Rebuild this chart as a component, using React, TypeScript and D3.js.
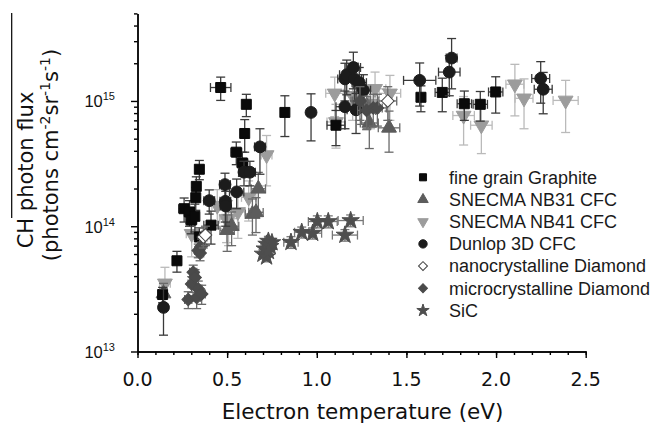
import React, { useEffect, useRef } from "react";
import * as d3 from "d3";

// each point: [electron temperature (eV), CH photon flux, dTe, dFlux]
type Pt = [number, number, number, number];

const graphite: Pt[] = [
  [0.14, 2.85e13, 0.02, 0.4e13],
  [0.22, 5.3e13, 0.02, 1.0e13],
  [0.26, 1.38e14, 0.03, 0.3e14],
  [0.29, 1.3e14, 0.03, 0.3e14],
  [0.3, 1.12e14, 0.03, 0.25e14],
  [0.32, 1.2e14, 0.02, 0.3e14],
  [0.325, 1.69e14, 0.02, 0.35e14],
  [0.328, 2.08e14, 0.02, 0.4e14],
  [0.345, 2.85e14, 0.02, 0.5e14],
  [0.345, 8.2e13, 0.02, 1.5e13],
  [0.41, 1.02e14, 0.04, 0.3e14],
  [0.464, 1.28e15, 0.057, 0.27e15],
  [0.551, 3.9e14, 0.03, 0.8e14],
  [0.585, 3.2e14, 0.03, 0.7e14],
  [0.598, 5.5e14, 0.02, 1.6e14],
  [0.607, 9.4e14, 0.02, 1.9e14],
  [0.822, 8.1e14, 0.02, 2.9e14],
  [1.107, 6.4e14, 0.05, 2.0e14],
  [1.581, 1.07e15, 0.02, 0.25e15],
  [1.7, 1.17e15, 0.04, 0.35e15],
  [1.823, 9.5e14, 0.04, 2.5e14],
  [1.912, 9.4e14, 0.04, 2.5e14],
  [1.998, 1.18e15, 0.04, 0.38e15],
];

const nb31: Pt[] = [
  [0.145, 2.9e13, 0.02, 0.6e13],
  [0.5, 9.3e13, 0.04, 0.3e14],
  [0.525, 1.0e14, 0.04, 0.3e14],
  [0.641, 1.25e14, 0.04, 0.4e14],
  [0.661, 1.29e14, 0.04, 0.4e14],
  [0.674, 1.99e14, 0.04, 0.7e14],
  [1.25, 1.0e15, 0.05, 0.35e15],
  [1.28, 9.0e14, 0.05, 0.3e15],
  [1.293, 6.67e14, 0.05, 2.5e14],
  [1.403, 6.1e14, 0.06, 2.2e14],
];

const nb41: Pt[] = [
  [0.153, 3.5e13, 0.03, 1.2e13],
  [0.302, 8.7e13, 0.03, 3.0e13],
  [0.445, 1.46e14, 0.03, 0.5e14],
  [0.497, 1.14e14, 0.04, 0.4e14],
  [0.508, 1.15e14, 0.05, 0.45e14],
  [0.56, 1.3e14, 0.04, 0.5e14],
  [0.62, 1.7e14, 0.04, 0.6e14],
  [0.72, 3.7e14, 0.03, 1.6e14],
  [1.1, 1.15e15, 0.05, 0.4e15],
  [1.107, 6.8e14, 0.05, 2.6e14],
  [1.2, 1.1e15, 0.05, 0.4e15],
  [1.3, 9.5e14, 0.05, 0.35e15],
  [1.325, 1.25e15, 0.06, 0.45e15],
  [1.408, 1.15e15, 0.06, 0.45e15],
  [1.819, 7.65e14, 0.06, 3.2e14],
  [1.918, 6.4e14, 0.06, 2.6e14],
  [2.105, 1.36e15, 0.05, 0.6e15],
  [2.156, 1.05e15, 0.05, 0.45e15],
  [2.388, 1.01e15, 0.07, 0.45e15],
];

const dunlop: Pt[] = [
  [0.145, 2.25e13, 0.02, 0.9e13],
  [0.4, 1.6e14, 0.03, 0.35e14],
  [0.488, 2.15e14, 0.03, 0.5e14],
  [0.49, 1.58e14, 0.03, 0.5e14],
  [0.492, 1.45e14, 0.03, 0.45e14],
  [0.553, 1.88e14, 0.04, 0.5e14],
  [0.594, 2.7e14, 0.03, 0.6e14],
  [0.627, 2.7e14, 0.03, 0.6e14],
  [0.683, 4.3e14, 0.03, 1.7e14],
  [0.968, 8.1e14, 0.02, 3.3e14],
  [1.157, 1.5e15, 0.04, 0.5e15],
  [1.167, 1.62e15, 0.04, 0.5e15],
  [1.204, 1.85e15, 0.04, 0.6e15],
  [1.21, 1.5e15, 0.04, 0.5e15],
  [1.237, 1.4e15, 0.04, 0.45e15],
  [1.26, 1.22e15, 0.04, 0.4e15],
  [1.157, 9.0e14, 0.05, 3.0e14],
  [1.219, 8.5e14, 0.05, 3.0e14],
  [1.574, 1.46e15, 0.09, 0.55e15],
  [1.739, 1.7e15, 0.06, 0.6e15],
  [1.752, 2.2e15, 0.03, 0.95e15],
  [2.249, 1.51e15, 0.05, 0.55e15],
  [2.263, 1.24e15, 0.05, 0.45e15],
];

const nanoDiamond: Pt[] = [
  [0.367, 8.2e13, 0.02, 1.5e13],
  [0.379, 8.5e13, 0.02, 1.5e13],
  [1.396, 1.0e15, 0.05, 0.3e15],
];

const microDiamond: Pt[] = [
  [0.283, 2.6e13, 0.02, 0.4e13],
  [0.302, 3.46e13, 0.02, 0.5e13],
  [0.311, 4.29e13, 0.02, 0.6e13],
  [0.321, 3.9e13, 0.02, 0.6e13],
  [0.33, 2.7e13, 0.02, 0.5e13],
  [0.339, 3.15e13, 0.02, 0.5e13],
  [0.358, 2.88e13, 0.02, 0.5e13],
  [0.339, 6.4e13, 0.02, 0.8e13],
  [0.349, 6.1e13, 0.02, 0.8e13],
  [0.358, 7.0e13, 0.02, 0.9e13],
  [1.241, 1.0e15, 0.05, 0.3e15],
  [1.278, 8.4e14, 0.05, 2.5e14],
  [1.315, 8.8e14, 0.05, 2.5e14],
  [1.338, 8.8e14, 0.05, 2.5e14],
];

const sic: Pt[] = [
  [0.7, 6.0e13, 0.02, 0.5e13],
  [0.71, 6.6e13, 0.02, 0.6e13],
  [0.72, 7.2e13, 0.02, 0.6e13],
  [0.73, 7.6e13, 0.02, 0.7e13],
  [0.74, 6.9e13, 0.02, 0.6e13],
  [0.75, 7.4e13, 0.02, 0.6e13],
  [0.72, 5.7e13, 0.02, 0.5e13],
  [0.73, 6.3e13, 0.02, 0.5e13],
  [0.856, 7.45e13, 0.04, 0.8e13],
  [0.916, 8.95e13, 0.04, 0.9e13],
  [0.977, 8.8e13, 0.05, 0.9e13],
  [1.003, 1.09e14, 0.05, 0.12e14],
  [1.064, 1.09e14, 0.05, 0.12e14],
  [1.157, 8.5e13, 0.07, 0.9e13],
  [1.189, 1.11e14, 0.07, 0.12e14],
];

const xTicks = [0, 0.5, 1.0, 1.5, 2.0, 2.5];
const yTickExponents = [13, 14, 15];

type Shape = "square" | "up" | "down" | "circle" | "diamond" | "star";

interface Series {
  name: string;
  data: Pt[];
  shape: Shape;
  fill: string;
  stroke: string;
  bar: string;
}

const series: Series[] = [
  { name: "fine grain Graphite", data: graphite, shape: "square", fill: "#0a0a0a", stroke: "#0a0a0a", bar: "#3a3a3a" },
  { name: "SNECMA NB31 CFC", data: nb31, shape: "up", fill: "#5c5c5c", stroke: "#5c5c5c", bar: "#6a6a6a" },
  { name: "SNECMA NB41 CFC", data: nb41, shape: "down", fill: "#9c9c9c", stroke: "#9c9c9c", bar: "#bababa" },
  { name: "Dunlop 3D CFC", data: dunlop, shape: "circle", fill: "#1c1c1c", stroke: "#1c1c1c", bar: "#3a3a3a" },
  { name: "nanocrystalline Diamond", data: nanoDiamond, shape: "diamond", fill: "#ffffff", stroke: "#444444", bar: "#6a6a6a" },
  { name: "microcrystalline Diamond", data: microDiamond, shape: "diamond", fill: "#4a4a4a", stroke: "#4a4a4a", bar: "#6a6a6a" },
  { name: "SiC", data: sic, shape: "star", fill: "#4e4e4e", stroke: "#4e4e4e", bar: "#777777" },
];

// painting order (back to front)
const drawOrder = [2, 1, 0, 3, 5, 4, 6];

const symbolPath = (shape: Shape, scale: number) => {
  const type =
    shape === "square" ? d3.symbolSquare
    : shape === "circle" ? d3.symbolCircle
    : shape === "star" ? d3.symbolStar
    : shape === "diamond" ? d3.symbolSquare
    : d3.symbolTriangle;
  const size =
    shape === "square" ? 100
    : shape === "circle" ? 110
    : shape === "star" ? 95
    : shape === "diamond" ? 80
    : 95;
  return d3.symbol().type(type).size(size * scale)() as string;
};

const symbolRotate = (shape: Shape) =>
  shape === "down" ? 180 : shape === "diamond" ? 45 : 0;

const App: React.FC = () => {
  const ref = useRef<SVGSVGElement | null>(null);

  useEffect(() => {
    const svg = d3.select(ref.current);
    svg.selectAll("*").remove();

    const x = d3.scaleLinear().domain([0, 2.5]).range([137.5, 585.7]);
    const y = d3.scaleLog().domain([1e13, 5e15]).range([351.5, 13.4]);

    // axes
    const xMinor = d3.range(0, 2.51, 0.1);
    const yMinor: number[] = [];
    for (const e of yTickExponents) for (let m = 2; m <= 9; m++) {
      const v = m * Math.pow(10, e);
      if (v <= 5e15) yMinor.push(v);
    }

    const xAxis = svg.append("g").attr("transform", `translate(0,${y.range()[0]})`);
    xAxis.call(d3.axisBottom(x).tickValues(xMinor).tickSize(3.5).tickFormat(() => "").tickSizeOuter(0));
    xAxis.call((g) => g.append("g").call(d3.axisBottom(x).tickValues(xTicks).tickSize(6.5).tickFormat(() => "").tickSizeOuter(0)));
    xAxis.selectAll("path, line").attr("stroke", "#000").attr("stroke-width", 1.4);

    const yAxis = svg.append("g").attr("transform", `translate(${x.range()[0]},0)`);
    yAxis.call(d3.axisLeft(y).tickValues(yMinor).tickSize(3.5).tickFormat(() => "").tickSizeOuter(0));
    yAxis.call((g) => g.append("g").call(
      d3.axisLeft(y).tickValues(yTickExponents.map((e) => Math.pow(10, e))).tickSize(6.5).tickFormat(() => "").tickSizeOuter(0)
    ));
    yAxis.selectAll("path, line").attr("stroke", "#000").attr("stroke-width", 1.4);

    // tick labels
    svg.append("g")
      .selectAll("text")
      .data(xTicks)
      .enter()
      .append("text")
      .attr("x", (d) => x(d))
      .attr("y", 385.5)
      .attr("text-anchor", "middle")
      .attr("font-family", "DejaVu Sans")
      .attr("font-size", 19)
      .attr("fill", "#111")
      .text((d) => d3.format(".1f")(d));

    const yl = svg.append("g")
      .selectAll("text")
      .data(yTickExponents)
      .enter()
      .append("text")
      .attr("x", 115)
      .attr("y", (d) => y(Math.pow(10, d)) + 6.5)
      .attr("text-anchor", "end")
      .attr("font-family", "Liberation Sans")
      .attr("font-size", 16.5)
      .attr("fill", "#111");
    yl.append("tspan").text("10");
    yl.append("tspan").attr("dy", -7).attr("font-size", 11).text((d) => String(d));

    // axis titles
    svg.append("text")
      .attr("x", 362.5)
      .attr("y", 419)
      .attr("text-anchor", "middle")
      .attr("font-family", "DejaVu Sans")
      .attr("font-size", 21.5)
      .attr("fill", "#111")
      .text("Electron temperature (eV)");

    svg.append("text")
      .attr("transform", "translate(33,170) rotate(-90)")
      .attr("text-anchor", "middle")
      .attr("font-family", "DejaVu Sans")
      .attr("font-size", 21)
      .attr("fill", "#111")
      .text("CH photon flux");

    const t2 = svg.append("text")
      .attr("transform", "translate(58,155) rotate(-90)")
      .attr("text-anchor", "middle")
      .attr("font-family", "DejaVu Sans")
      .attr("font-size", 21)
      .attr("fill", "#111");
    t2.append("tspan").text("(photons cm");
    t2.append("tspan").attr("dy", -8).attr("font-size", 14).text("-2");
    t2.append("tspan").attr("dy", 8).text("sr");
    t2.append("tspan").attr("dy", -8).attr("font-size", 14).text("-1");
    t2.append("tspan").attr("dy", 8).text("s");
    t2.append("tspan").attr("dy", -8).attr("font-size", 14).text("-1");
    t2.append("tspan").attr("dy", 8).text(")");

    svg.append("line")
      .attr("x1", 11.7).attr("x2", 11.7).attr("y1", 13).attr("y2", 218)
      .attr("stroke", "#000").attr("stroke-width", 1.2);

    // data
    const cap = 4.5;
    for (const i of drawOrder) {
      const s = series[i];
      const g = svg.append("g");
      const bars = g.append("g").attr("stroke", s.bar).attr("stroke-width", 1.3).attr("fill", "none");
      s.data.forEach(([te, f, dte, df]) => {
        const cx = x(te), cy = y(f);
        const yHi = y(f + df), yLo = y(Math.max(f - df, 1.01e13));
        const xLo = x(te - dte), xHi = x(te + dte);
        bars.append("line").attr("x1", cx).attr("x2", cx).attr("y1", yHi).attr("y2", yLo);
        bars.append("line").attr("x1", cx - cap).attr("x2", cx + cap).attr("y1", yHi).attr("y2", yHi);
        bars.append("line").attr("x1", cx - cap).attr("x2", cx + cap).attr("y1", yLo).attr("y2", yLo);
        bars.append("line").attr("x1", xLo).attr("x2", xHi).attr("y1", cy).attr("y2", cy);
        bars.append("line").attr("x1", xLo).attr("x2", xLo).attr("y1", cy - cap).attr("y2", cy + cap);
        bars.append("line").attr("x1", xHi).attr("x2", xHi).attr("y1", cy - cap).attr("y2", cy + cap);
      });
      g.append("g")
        .selectAll("path")
        .data(s.data)
        .enter()
        .append("path")
        .attr("d", symbolPath(s.shape, 1))
        .attr("transform", (d) => `translate(${x(d[0])},${y(d[1])}) rotate(${symbolRotate(s.shape)})`)
        .attr("fill", s.fill)
        .attr("stroke", s.stroke)
        .attr("stroke-width", 1);
    }

    // legend
    const legend = svg.append("g").attr("transform", "translate(423,177.3)");
    const rows = legend
      .selectAll("g")
      .data(series)
      .enter()
      .append("g")
      .attr("transform", (_, i) => `translate(0,${i * 22.2})`);
    rows.append("path")
      .attr("d", (d) => symbolPath(d.shape, 0.5))
      .attr("transform", (d) => `rotate(${symbolRotate(d.shape)})`)
      .attr("fill", (d) => d.fill)
      .attr("stroke", (d) => d.stroke)
      .attr("stroke-width", 1);
    rows.append("text")
      .attr("x", 26)
      .attr("y", 6.3)
      .attr("font-family", "Liberation Sans")
      .attr("font-size", 18)
      .attr("fill", "#1a1a1a")
      .text((d) => d.name);
  }, []);

  return (
    <svg
      ref={ref}
      width={654}
      height={425}
      style={{ position: "absolute", left: 0, top: 0, background: "#fff" }}
    />
  );
};

export default App;
